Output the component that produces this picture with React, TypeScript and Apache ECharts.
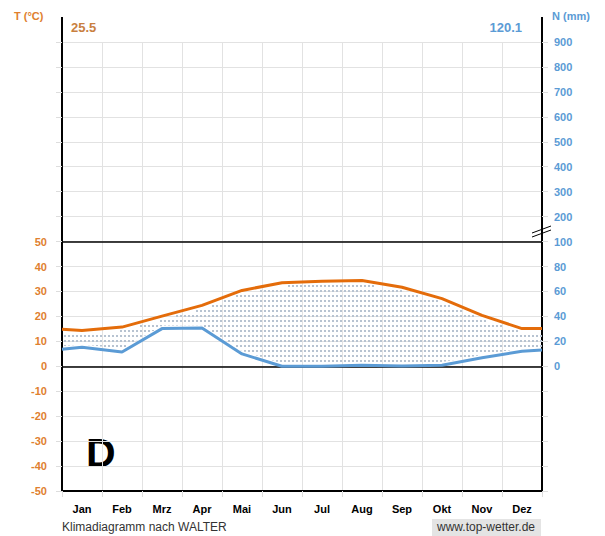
import React, { useEffect, useRef } from 'react';
import * as echarts from 'echarts';

// ---- data ----
const months = ['Jan', 'Feb', 'Mrz', 'Apr', 'Mai', 'Jun', 'Jul', 'Aug', 'Sep', 'Okt', 'Nov', 'Dez'];
const temperature = [14.3, 15.7, 20.1, 24.4, 30.4, 33.5, 34.1, 34.4, 31.7, 27.1, 20.4, 15.1]; // °C
const precipitation = [15.2, 11.4, 30.2, 30.6, 9.9, 0, 0, 0.8, 0.3, 0.9, 6.8, 12.0]; // mm
const temperatureEdges = [14.8, 15.1]; // values at the left / right border of the plot
const precipitationEdges = [13.6, 13.0];
const tempTickLabels = [-50, -40, -30, -20, -10, 0, 10, 20, 30, 40, 50];
const precipTickLabelsLow = [0, 20, 40, 60, 80, 100];
const precipTickLabelsHigh = [200, 300, 400, 500, 600, 700, 800, 900];
const annualMeanTemp = '25.5';
const annualPrecip = '120.1';
const stationLetter = 'D';

const ORANGE_TXT = '#e0802f';
const ORANGE_LINE = '#e46c0a';
const BLUE = '#5b9bd5';
const GRID = '#e2e2e2';
const DOT = '#b7c3d1';
const FONT = 'Arial, "Liberation Sans", sans-serif';

// precipitation (mm) -> temperature-axis units (Walter: 20 mm = 10 °C below 100 mm)
const mmToAxis = (p: number) => (p <= 100 ? p / 2 : 50 + (p - 100) / 10);
const axisToMm = (v: number) => (v <= 50 ? v * 2 : 100 + (v - 50) * 10);

function yAtX(pts: number[][], x: number) {
  for (let i = 0; i < pts.length - 1; i++) {
    const a = pts[i];
    const b = pts[i + 1];
    if (x >= a[0] && x <= b[0]) {
      const t = b[0] === a[0] ? 0 : (x - a[0]) / (b[0] - a[0]);
      return a[1] + (b[1] - a[1]) * t;
    }
  }
  return pts[pts.length - 1][1];
}

export default function App() {
  const ref = useRef<HTMLDivElement>(null);

  useEffect(() => {
    if (!ref.current) return;
    const chart = echarts.init(ref.current, undefined, { renderer: 'svg' });

    const tempData = [
      [0, temperatureEdges[0]],
      ...temperature.map((t, i) => [i + 0.5, t]),
      [12, temperatureEdges[1]],
    ];
    const precData = [
      [0, mmToAxis(precipitationEdges[0])],
      ...precipitation.map((p, i) => [i + 0.5, mmToAxis(p)]),
      [12, mmToAxis(precipitationEdges[1])],
    ];

    // dotted fill between the temperature curve (above) and the precipitation curve (below)
    const renderDots = (_params: any, api: any) => {
      const tPx = tempData.map((d) => api.coord(d));
      const pPx = precData.map((d) => api.coord(d));
      const x0 = tPx[0][0];
      const x1 = tPx[tPx.length - 1][0];
      const children: any[] = [];
      const colStep = 4;
      const rowStep = 5;
      for (let x = Math.ceil(x0) + 2; x < x1 - 1; x += colStep) {
        const top = yAtX(tPx, x + 1);
        const bottom = yAtX(pPx, x + 1);
        if (bottom - top < 5) continue;
        const start = Math.ceil((top + 2.5) / rowStep) * rowStep;
        const end = bottom - 3;
        if (end <= start) continue;
        children.push({
          type: 'line',
          shape: { x1: x + 1, y1: start, x2: x + 1, y2: end },
          style: { stroke: DOT, lineWidth: 2, lineDash: [2, 3], lineCap: 'butt' },
          silent: true,
        });
      }
      return { type: 'group', children };
    };

    chart.setOption({
      animation: false,
      textStyle: { fontFamily: FONT },
      grid: { left: 62, right: 63, top: 42, bottom: 45 },
      xAxis: [
        {
          type: 'value',
          min: 0,
          max: 12,
          interval: 1,
          axisLine: { onZero: false, lineStyle: { color: '#000', width: 2 } },
          axisTick: { show: true, length: 6, lineStyle: { color: '#ddd' } },
          axisLabel: { show: false },
          splitLine: { show: true, lineStyle: { color: GRID } },
        },
        {
          type: 'category',
          data: months,
          position: 'bottom',
          boundaryGap: true,
          axisLine: { show: false, onZero: false },
          axisTick: { show: false },
          splitLine: { show: false },
          axisLabel: { color: '#000', fontWeight: 'bold', fontSize: 11, margin: 12, interval: 0, fontFamily: FONT },
        },
      ],
      yAxis: [
        {
          type: 'value',
          position: 'left',
          min: -50,
          max: 130,
          interval: 10,
          axisLine: { show: true, onZero: false, lineStyle: { color: '#000', width: 2 } },
          axisTick: { show: true, length: 6, lineStyle: { color: '#ddd' } },
          splitLine: { show: true, lineStyle: { color: GRID } },
          axisLabel: {
            color: ORANGE_TXT,
            fontWeight: 'bold',
            fontSize: 11,
            margin: 15,
            fontFamily: FONT,
            formatter: (v: number) => (tempTickLabels.includes(v) ? String(v) : ''),
          },
        },
        {
          type: 'value',
          position: 'right',
          min: -50,
          max: 130,
          interval: 10,
          axisLine: { show: true, onZero: false, lineStyle: { color: '#000', width: 2 } },
          axisTick: { show: true, length: 6, lineStyle: { color: '#ddd' } },
          splitLine: { show: false },
          axisLabel: {
            color: BLUE,
            fontWeight: 'bold',
            fontSize: 11,
            margin: 12,
            fontFamily: FONT,
            formatter: (v: number) => {
              if (v < 0) return '';
              const mm = Math.round(axisToMm(v));
              return precipTickLabelsLow.includes(mm) || precipTickLabelsHigh.includes(mm) ? String(mm) : '';
            },
          },
        },
      ],
      series: [
        {
          name: 'arid',
          type: 'custom',
          xAxisIndex: 0,
          yAxisIndex: 0,
          coordinateSystem: 'cartesian2d',
          data: [[0, 0]],
          renderItem: renderDots,
          clip: false,
          silent: true,
          z: 3,
          markLine: {
            silent: true,
            symbol: 'none',
            label: { show: false },
            lineStyle: { color: '#000', width: 1.5, type: 'solid' },
            data: [{ yAxis: 50 }, { yAxis: 0 }],
          },
        },
        {
          name: 'Temperatur',
          type: 'line',
          xAxisIndex: 0,
          yAxisIndex: 0,
          data: tempData,
          symbol: 'none',
          z: 5,
          lineStyle: { color: ORANGE_LINE, width: 3 },
        },
        {
          name: 'Niederschlag',
          type: 'line',
          xAxisIndex: 0,
          yAxisIndex: 0,
          data: precData,
          symbol: 'none',
          z: 5,
          lineStyle: { color: BLUE, width: 3 },
        },
      ],
      graphic: [
        { type: 'line', shape: { x1: 62, y1: 17, x2: 62, y2: 42 }, style: { stroke: '#000', lineWidth: 2 } },
        { type: 'line', shape: { x1: 542, y1: 17, x2: 542, y2: 42 }, style: { stroke: '#000', lineWidth: 2 } },
        { type: 'line', shape: { x1: 532, y1: 233, x2: 551, y2: 226 }, style: { stroke: '#000', lineWidth: 1 } },
        { type: 'line', shape: { x1: 532, y1: 237, x2: 551, y2: 230 }, style: { stroke: '#000', lineWidth: 1 } },
        {
          type: 'text', x: 14, y: 16,
          style: { text: 'T (°C)', fill: ORANGE_TXT, font: `bold 11px ${FONT}`, verticalAlign: 'middle' },
        },
        {
          type: 'text', x: 552, y: 16,
          style: { text: 'N (mm)', fill: BLUE, font: `bold 11px ${FONT}`, verticalAlign: 'middle' },
        },
        {
          type: 'text', x: 71, y: 27,
          style: { text: annualMeanTemp, fill: '#c9803f', font: `bold 13px ${FONT}`, verticalAlign: 'middle' },
        },
        {
          type: 'text', x: 522, y: 27,
          style: { text: annualPrecip, fill: BLUE, font: `bold 13px ${FONT}`, align: 'right', verticalAlign: 'middle' },
        },
        {
          type: 'text', x: 86, y: 453,
          style: { text: stationLetter, fill: '#000', font: `bold 41px ${FONT}`, verticalAlign: 'middle' },
        },
        {
          type: 'text', x: 62, y: 527,
          style: { text: 'Klimadiagramm nach WALTER', fill: '#333', font: `12px ${FONT}`, verticalAlign: 'middle' },
        },
        { type: 'rect', shape: { x: 432, y: 519, width: 109, height: 17 }, style: { fill: '#e4e4e4' } },
        {
          type: 'text', x: 486, y: 527,
          style: { text: 'www.top-wetter.de', fill: '#333', font: `12px ${FONT}`, align: 'center', verticalAlign: 'middle' },
        },
      ],
    });

    return () => chart.dispose();
  }, []);

  return (
    <div
      ref={ref}
      style={{ position: 'fixed', left: 0, top: 0, width: 605, height: 536, background: '#fff' }}
    />
  );
}
